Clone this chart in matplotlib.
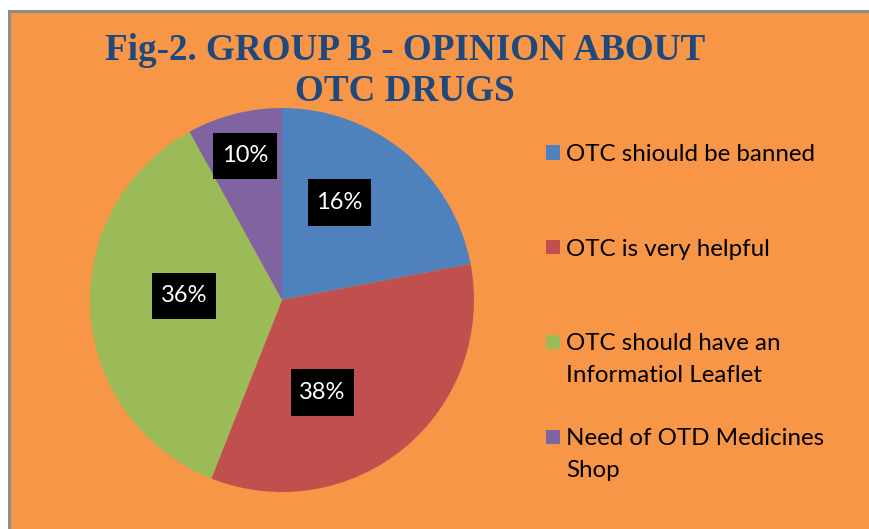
import numpy as np
import matplotlib
matplotlib.use("Agg")
import matplotlib.pyplot as plt
from matplotlib.patches import Rectangle

# ---- data ----
categories = ["OTC shiould be banned", "OTC is very helpful",
              "OTC should have an\nInformatiol Leaflet", "Need of OTD Medicines\nShop"]
counts = [11, 17, 18, 4]                      # slice sizes as drawn
shown_labels = ["16%", "38%", "36%", "10%"]   # labels printed on the slices
title_lines = ["Fig-2. GROUP B - OPINION ABOUT", "OTC DRUGS"]

# ---- style ----
colors = ["#4F81BD", "#C0504D", "#9BBB59", "#8064A2"]
bg = "#F79646"
W, H = 870, 529
label_r = [0.59, 0.525, 0.51, 0.775]
label_dtheta = [9, -16, -6, 0]

fig = plt.figure(figsize=(W / 100, H / 100), dpi=100)
fig.patch.set_facecolor("white")

# orange chart area with grey border
fig.patches.append(Rectangle((9.5 / W, -0.05), 1.1, (H - 10.5) / H + 0.05,
                             transform=fig.transFigure, facecolor=bg,
                             edgecolor="#8C8C8C", linewidth=2.2, zorder=-5))

# pie axes: center (282,300) px from top-left, radius 192 px
cx, cy, R = 282, 300, 192
ax = fig.add_axes([(cx - R) / W, (H - cy - R) / H, 2 * R / W, 2 * R / H])
ax.set_zorder(2)
ax.set_facecolor("none")
wedges, _ = ax.pie(counts, colors=colors, startangle=90, counterclock=False,
                   wedgeprops=dict(linewidth=0))
ax.set_xlim(-1, 1)
ax.set_ylim(-1, 1)
ax.set_aspect("auto")
ax.axis("off")

for w, lab, r, dt in zip(wedges, shown_labels, label_r, label_dtheta):
    th = np.deg2rad((w.theta1 + w.theta2) / 2 + dt)
    ax.text(r * np.cos(th), r * np.sin(th), lab, ha="center", va="center",
            color="white", fontsize=17, family="Lato",
            bbox=dict(boxstyle="square,pad=0.36", facecolor="black",
                      edgecolor="none", mutation_aspect=1.5))

# title
title_baselines = [59.5, 101.5]
for line, yb in zip(title_lines, title_baselines):
    fig.text(405 / W, 1 - yb / H, line, ha="center", va="baseline",
             fontsize=26.7, family="Liberation Serif", fontweight="bold",
             color="#1F497D")

# legend (manual, top-aligned like Excel)
y0, step, line_pitch = 152.5, 94.7, 32
for i, (cat, col) in enumerate(zip(categories, colors)):
    yc = y0 + i * step
    fig.patches.append(Rectangle((546 / W, 1 - (yc + 7) / H), 14 / W, 14 / H,
                                 transform=fig.transFigure, facecolor=col,
                                 edgecolor="none", zorder=2))
    for j, ln in enumerate(cat.split("\n")):
        fig.text(566 / W, 1 - (yc + 8.5 + j * line_pitch) / H, ln,
                 ha="left", va="baseline", fontsize=17.4, family="Lato",
                 color="black")

fig.savefig("out.png", dpi=100, facecolor=fig.get_facecolor())
